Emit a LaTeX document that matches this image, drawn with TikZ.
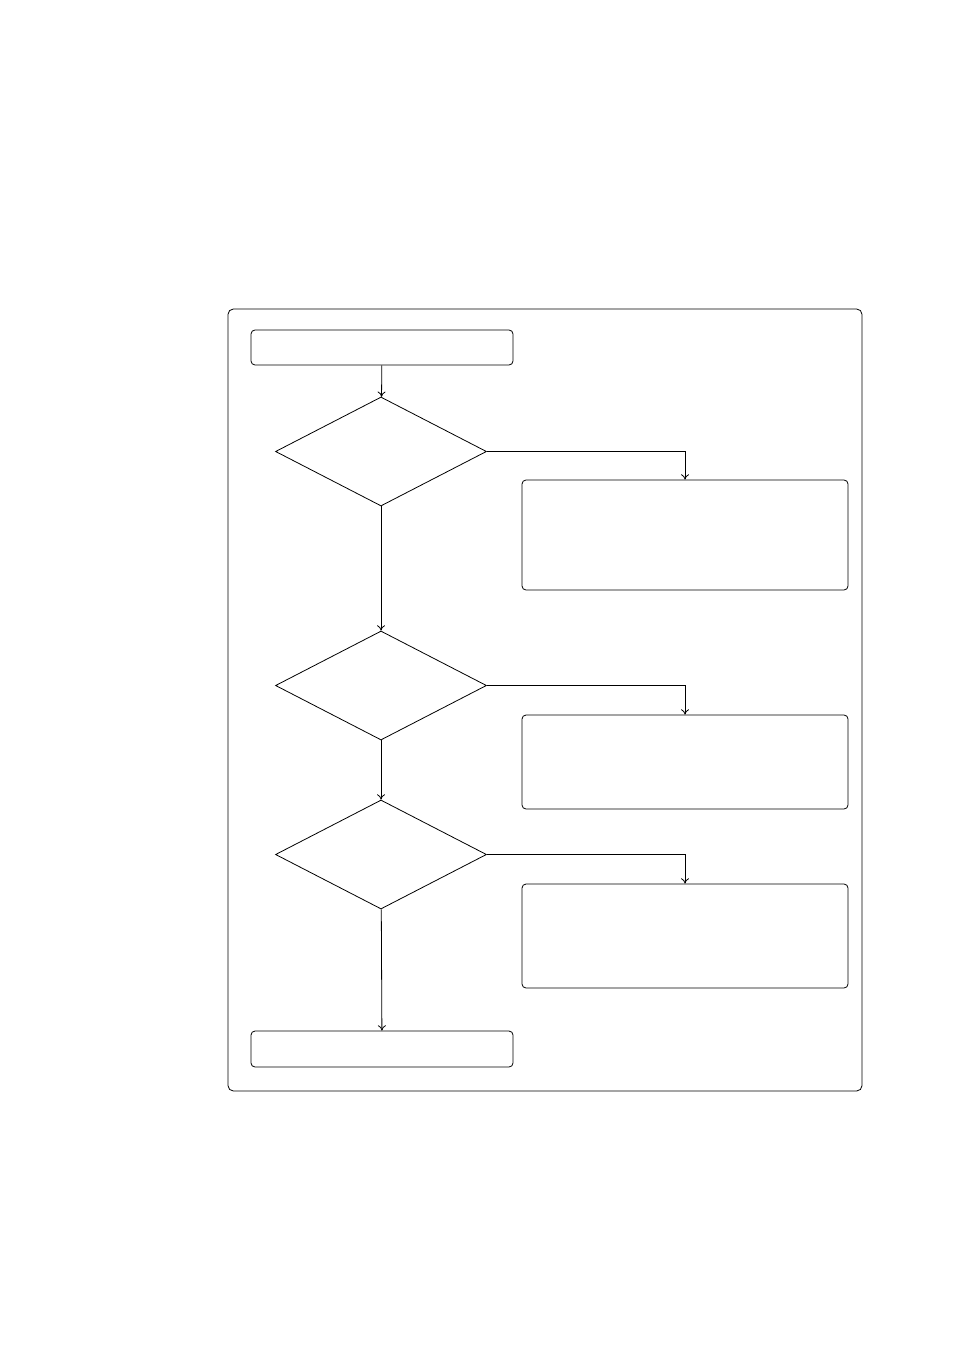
\documentclass[tikz,border=0pt]{standalone}
\usepackage{tikz}
\usetikzlibrary{arrows.meta, shapes.geometric, calc, positioning}

\begin{document}
\begin{tikzpicture}[x=0.75pt, y=-0.75pt, line width=0.6pt, >={To[length=4pt, width=6pt]},
                        box/.style={draw, rounded corners=3pt, inner sep=0pt, minimum width=244.5pt},
                        endbox/.style={draw, rounded corners=3pt, inner sep=0pt, minimum width=196.5pt},
                        decision/.style={draw, diamond, inner sep=0pt, minimum width=158.25pt, minimum height=81.75pt}]
                        \useasboundingbox (0,0) rectangle (954,1351);
                        \draw[rounded corners=4pt] (228,309) rectangle (862,1091);
                        \node[endbox, minimum height=26.25pt] (start) at (382, 347.5) {};
                        \node[decision] (d1) at (381, 451.5) {};
                        \node[box, minimum height=82.5pt] (b1) at (685, 535) {};
                        \node[decision] (d2) at (381, 685.5) {};
                        \node[box, minimum height=70.5pt] (b2) at (685, 762) {};
                        \node[decision] (d3) at (381, 854.5) {};
                        \node[box, minimum height=78pt] (b3) at (685, 936) {};
                        \node[endbox, minimum height=27pt] (stop) at (382, 1049) {};
                        \draw[->]
                        (start) edge (d1)
                        (d1) edge (d2)
                        (d2) edge (d3)
                        (d3) edge (stop);
                        \draw[->] (d1.east) -| (b1.north);
                        \draw[->] (d2.east) -| (b2.north);
                        \draw[->] (d3.east) -| (b3.north);
                    \end{tikzpicture}
\end{document}
